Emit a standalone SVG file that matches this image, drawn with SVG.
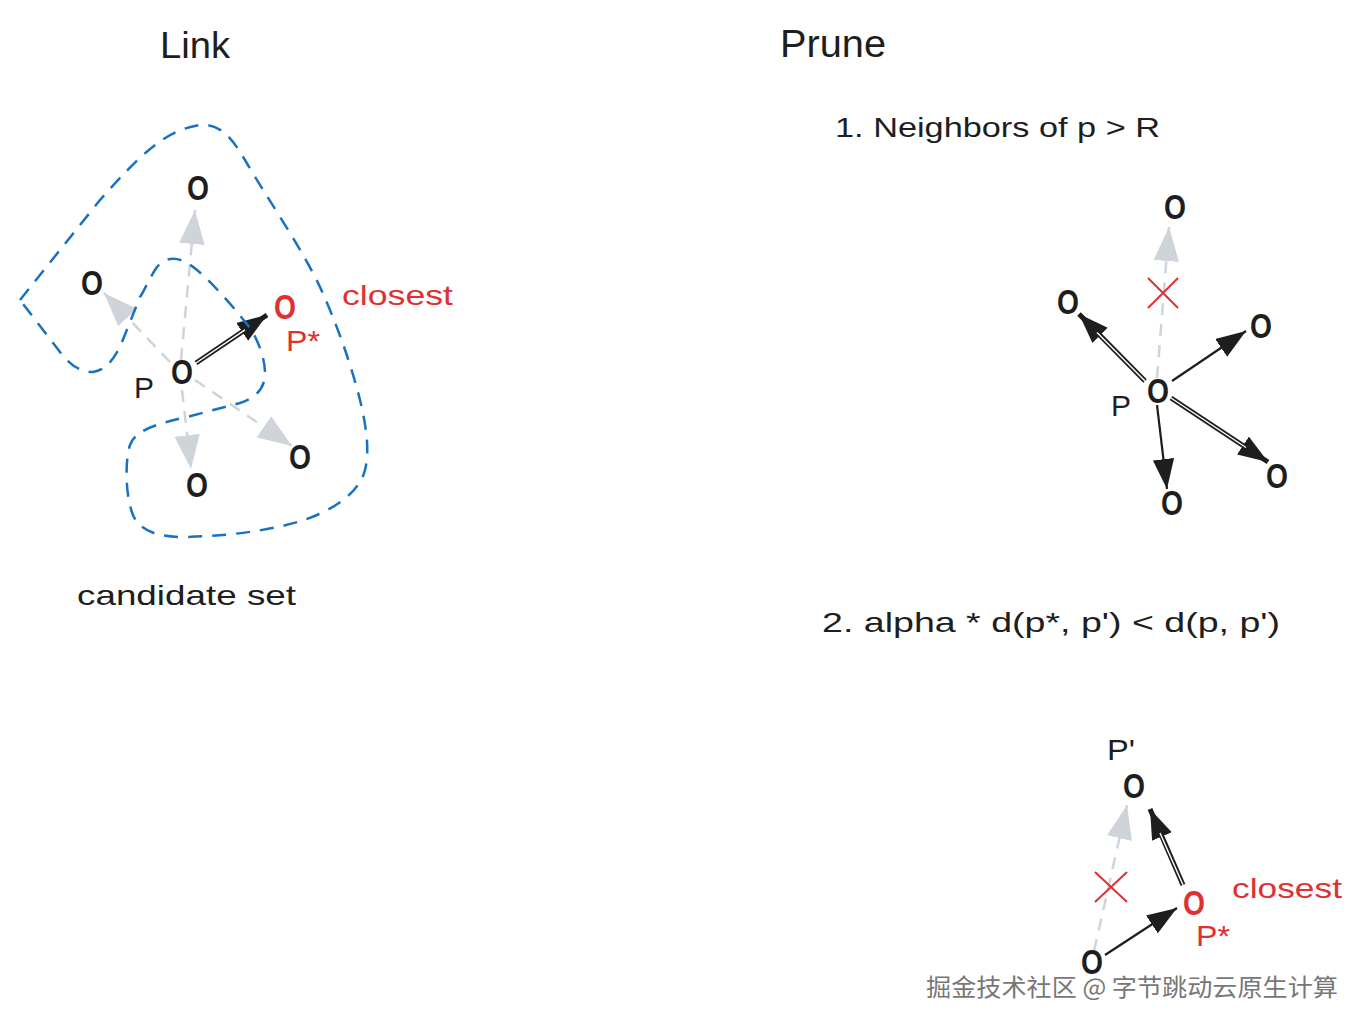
<svg xmlns="http://www.w3.org/2000/svg" width="1364" height="1024" viewBox="0 0 1364 1024">
<defs>
<style>
.t{font-family:"Liberation Sans","Noto Sans",sans-serif;fill:#1e1e1e}
.n{font-family:"Liberation Sans",sans-serif;font-weight:bold;font-size:35px;text-anchor:middle;fill:#1e1e1e}
.lb{font-family:"Liberation Sans",sans-serif;font-size:30px;fill:#1e1e1e}
.r{fill:#e03131}
.g{stroke:#ced4da;stroke-width:2.5;fill:none;stroke-dasharray:12 9;marker-end:url(#hg)}
.b{stroke:#1e1e1e;stroke-width:2.2;fill:none;marker-end:url(#hb)}
.bd{stroke:#1e1e1e;stroke-width:5;fill:none;marker-end:url(#hb)}
.bi{stroke:#fff;stroke-width:1.4;fill:none}
.x{stroke:#e03131;stroke-width:2;fill:none}
.wm{font-family:"Noto Sans CJK SC","Liberation Sans",sans-serif;font-size:24px;fill:#777;stroke:#fff;stroke-width:3;paint-order:stroke}
</style>
<marker id="hg" markerUnits="userSpaceOnUse" markerWidth="34" markerHeight="26" viewBox="0 0 32 24" refX="32" refY="12" orient="auto"><path d="M0,0 L32,12 L0,24 Z" fill="#ced4da"/></marker>
<marker id="hb" markerUnits="userSpaceOnUse" markerWidth="30" markerHeight="22" viewBox="0 0 28 20" refX="28" refY="10" orient="auto"><path d="M0,0 L28,10 L0,20 Z" fill="#1e1e1e"/></marker>
</defs>
<rect width="1364" height="1024" fill="#fff"/>

<text class="t" x="160" y="58" font-size="36" textLength="70" lengthAdjust="spacingAndGlyphs">Link</text>
<text class="t" x="780" y="57" font-size="38" textLength="106" lengthAdjust="spacingAndGlyphs">Prune</text>
<text class="t" x="835" y="137" font-size="28" textLength="325" lengthAdjust="spacingAndGlyphs">1. Neighbors of p &gt; R</text>
<text class="t" x="77" y="605" font-size="28" textLength="219" lengthAdjust="spacingAndGlyphs">candidate set</text>
<text class="t" x="822" y="632" font-size="28" textLength="458" lengthAdjust="spacingAndGlyphs">2. alpha * d(p*, p') &lt; d(p, p')</text>

<g id="connectors">
<g id="link-edges">
<path class="g" d="M181,360 L195,210"/>
<path class="g" d="M170,362 L104,293"/>
<path class="g" d="M182,390 L191,469"/>
<path class="g" d="M195,380 L292,446"/>
<path class="bd" d="M196,363 L267,315"/>
<path class="bi" d="M196,363 L245,329.8"/>
</g>
<g id="prune1-edges">
<path class="g" d="M1157,378 L1169,227"/>
<path class="bd" d="M1145,381 L1079,314"/>
<path class="bi" d="M1145,381 L1097,332.5"/>
<path class="b" d="M1172,381 L1246,331"/>
<path class="b" d="M1157,405 L1167,489"/>
<path class="bd" d="M1171,398 L1268,462"/>
<path class="bi" d="M1171,398 L1246,447.5"/>
</g>
<g id="prune2-edges">
<path class="g" d="M1094,951 L1127,805"/>
<path class="bd" d="M1183,885 L1150,809"/>
<path class="bi" d="M1183,885 L1160,833"/>
<path class="b" d="M1105,955 L1177,908"/>
</g>
</g>

<g id="candidate-set">
<path d="M20,300 L100,200 C140,155 165,130 200,125 C220,123 232,138 245,160 C265,195 300,245 320,287 C335,320 350,360 360,400 C366,425 370,450 365,470 C360,490 340,505 317,515 C290,527 240,536 183,537 C160,537 140,532 133,515 C125,495 125,460 130,445 C135,432 150,425 187,417 L240,403 C255,398 263,390 265,377 C266,360 258,340 250,328 C240,315 215,285 197,270 C185,260 170,252 157,267 C148,280 145,290 140,297 L120,347 C112,362 105,370 93,372 C80,372 70,365 60,352 Z" fill="none" stroke="#1971c2" stroke-width="2.5" stroke-dasharray="14 10"/>
</g>

<g id="link-nodes">
<g id="l-top"><text class="n" x="198" y="200" textLength="22" lengthAdjust="spacingAndGlyphs">O</text></g>
<g id="l-left"><text class="n" x="92" y="295" textLength="22" lengthAdjust="spacingAndGlyphs">O</text></g>
<g id="l-p"><text class="n" x="182" y="384" textLength="22" lengthAdjust="spacingAndGlyphs">O</text><text class="lb" x="134" y="398" textLength="20" lengthAdjust="spacingAndGlyphs">P</text></g>
<g id="l-pstar"><text class="n r" x="285" y="319" textLength="22" lengthAdjust="spacingAndGlyphs">O</text><text class="lb r" x="286" y="351" textLength="34" lengthAdjust="spacingAndGlyphs">P*</text><text class="t r" x="342" y="305" font-size="28" textLength="111" lengthAdjust="spacingAndGlyphs">closest</text></g>
<g id="l-bottom"><text class="n" x="197" y="497" textLength="22" lengthAdjust="spacingAndGlyphs">O</text></g>
<g id="l-br"><text class="n" x="300" y="469" textLength="22" lengthAdjust="spacingAndGlyphs">O</text></g>
</g>

<g id="prune1-nodes">
<g id="p1-top"><text class="n" x="1175" y="219" textLength="22" lengthAdjust="spacingAndGlyphs">O</text></g>
<g id="p1-x"><path class="x" d="M1148,278 L1178,308 M1148,308 L1178,278"/></g>
<g id="p1-ul"><text class="n" x="1068" y="314" textLength="22" lengthAdjust="spacingAndGlyphs">O</text></g>
<g id="p1-right"><text class="n" x="1261" y="338" textLength="22" lengthAdjust="spacingAndGlyphs">O</text></g>
<g id="p1-p"><text class="n" x="1158" y="403" textLength="22" lengthAdjust="spacingAndGlyphs">O</text><text class="lb" x="1111" y="416" textLength="20" lengthAdjust="spacingAndGlyphs">P</text></g>
<g id="p1-bottom"><text class="n" x="1172" y="515" textLength="22" lengthAdjust="spacingAndGlyphs">O</text></g>
<g id="p1-br"><text class="n" x="1277" y="488" textLength="22" lengthAdjust="spacingAndGlyphs">O</text></g>
</g>

<g id="prune2-nodes">
<g id="p2-pprime"><text class="lb" x="1107" y="760" textLength="28" lengthAdjust="spacingAndGlyphs">P'</text><text class="n" x="1134" y="798" textLength="22" lengthAdjust="spacingAndGlyphs">O</text></g>
<g id="p2-x"><path class="x" d="M1095,872 L1127,902 M1095,902 L1127,872"/></g>
<g id="p2-pstar"><text class="n r" x="1194" y="915" textLength="22" lengthAdjust="spacingAndGlyphs">O</text><text class="lb r" x="1196" y="946" textLength="34" lengthAdjust="spacingAndGlyphs">P*</text><text class="t r" x="1232" y="898" font-size="28" textLength="110" lengthAdjust="spacingAndGlyphs">closest</text></g>
<g id="p2-p"><text class="n" x="1092" y="974" textLength="22" lengthAdjust="spacingAndGlyphs">O</text></g>
</g>

<text class="wm" x="926" y="996" textLength="412" lengthAdjust="spacingAndGlyphs">掘金技术社区 @ 字节跳动云原生计算</text>
</svg>
